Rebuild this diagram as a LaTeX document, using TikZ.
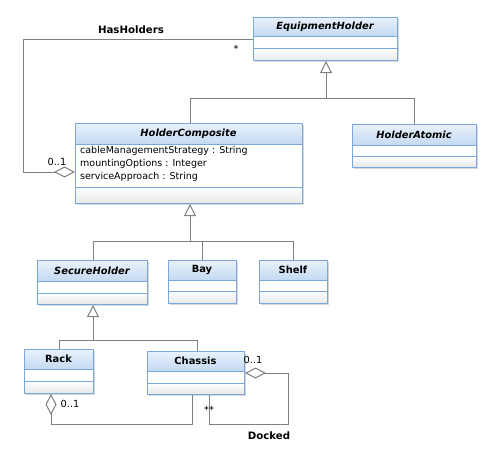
\documentclass[tikz,border=0pt]{standalone}
\usepackage{fontspec}
\setmainfont{DejaVu Sans}
\usetikzlibrary{arrows.meta}
\definecolor{bordc}{HTML}{7AA7DC}
\definecolor{hdrtop}{HTML}{EAF2FC}
\definecolor{hdrbot}{HTML}{C3D9F2}
\definecolor{lowbot}{HTML}{E8E8E8}
\definecolor{linec}{HTML}{808080}
\tikzset{
  conn/.style={draw=linec, line width=1pt},
  gen/.style={conn, -{Triangle[open, length=12pt, width=12pt, line width=1pt]}},
  agg/.style={conn, {Diamond[open, length=21pt, width=11pt, line width=1pt]}-},
  lbl/.style={font=\fontsize{9.8}{11}\selectfont, inner sep=0pt},
  blbl/.style={font=\fontsize{10.2}{12}\selectfont\bfseries, inner sep=0pt},
  attr/.style={font=\fontsize{9.5}{11}\selectfont, inner sep=0pt, anchor=west},
}
% \umlclass{name}{left}{top}{right}{bottom}{div1}{div2}{title}
\newcommand{\umlclass}[8]{%
  \fill[black!25, opacity=0.6] (#2+2,#3+2) rectangle (#4+2,#5+2);
  \fill[white] (#2,#3) rectangle (#4,#5);
  \shade[top color=hdrtop, bottom color=hdrbot] (#2,#3) rectangle (#4,#6);
  \shade[top color=white, bottom color=lowbot] (#2,#7) rectangle (#4,#5);
  \draw[bordc, line width=1pt] (#2,#6) -- (#4,#6);
  \draw[bordc, line width=1pt] (#2,#7) -- (#4,#7);
  \node[draw=bordc, line width=1pt, inner sep=0pt, anchor=north west,
        minimum width=#4-#2, minimum height=#5-#3] (#1) at (#2,#3) {};
  \node[blbl, font=\fontsize{9.9}{12}\selectfont\bfseries] (#1-t) at ({(#2+#4)/2},{(#3+#6)/2}) {#8};
}
\begin{document}
\begin{tikzpicture}[x=1pt, y=-1pt]
\useasboundingbox (0,0) rectangle (489,466);
\fill[white] (0,0) rectangle (489,466);

\umlclass{eh}{253}{17}{397}{60}{36}{48}{\itshape EquipmentHolder}
\umlclass{hc}{75}{123}{302}{203}{144}{187}{\itshape HolderComposite}
\umlclass{ha}{352}{124}{476}{167}{145}{156}{\itshape HolderAtomic}
\umlclass{sh}{37}{260}{147}{304}{281}{293}{\itshape SecureHolder}
\umlclass{bay}{168}{260}{236}{303}{280}{291}{Bay}
\umlclass{shelf}{259}{260}{327}{303}{280}{291}{Shelf}
\umlclass{rack}{24}{349}{93}{393}{369}{381}{Rack}
\umlclass{ch}{147}{351}{244}{394}{371}{383}{Chassis}

\node[attr] (a1) at (80,151) {cableManagementStrategy : String};
\node[attr] (a2) at (80,164) {mountingOptions : Integer};
\node[attr] (a3) at (80,177) {serviceApproach : String};

% generalization EquipmentHolder
\coordinate (j1) at (326,98);
\coordinate (j1l) at (190,98);
\coordinate (j1r) at (414,98);
\draw[conn] (j1l |- hc.north) -- (j1l) -- (j1r) -- (j1r |- ha.north);
\draw[gen] (j1) -- (j1 |- eh.south);

% generalization HolderComposite
\coordinate (j2) at (190,241);
\coordinate (j2l) at (93,241);
\coordinate (j2m) at (202,241);
\coordinate (j2r) at (293,241);
\draw[conn] (j2l |- sh.north) -- (j2l) -- (j2r) -- (j2r |- shelf.north);
\draw[conn] (j2m) -- (j2m |- bay.north);
\draw[gen] (j2) -- (j2 |- hc.south);

% generalization SecureHolder
\coordinate (j3) at (93,340);
\coordinate (j3l) at (59,340);
\coordinate (j3r) at (197,340);
\draw[conn] (j3l |- rack.north) -- (j3l) -- (j3r) -- (j3r |- ch.north);
\draw[gen] (j3) -- (j3 |- sh.south);

% HasHolders
\coordinate (h1) at (23,39);
\coordinate (h2) at (23,172);
\draw[agg] (hc.west |- h2) -- (h2) -- (h1) -- (eh.west |- h1);
\node[blbl] (hh) at (131,30) {HasHolders};
\node[lbl] (hstar) at (236,49) {*};
\node[lbl] (h01) at (57,162) {0..1};

% Rack - Chassis
\coordinate (r1) at (51,424);
\coordinate (r2) at (192,424);
\draw[agg] (r1 |- rack.south) -- (r1) -- (r2) -- (r2 |- ch.south);
\node[lbl] (r01) at (70,404) {0..1};

% Docked
\coordinate (d1) at (288,373);
\coordinate (d2) at (288,424);
\coordinate (d3) at (209,424);
\draw[agg] (ch.east |- d1) -- (d1) -- (d2) -- (d3) -- (d3 |- ch.south);
\node[lbl] (d01) at (253,360) {0..1};
\node[lbl] (dstar) at (209,410) {**};
\node[blbl] (dk) at (269,436) {Docked};
\end{tikzpicture}
\end{document}
